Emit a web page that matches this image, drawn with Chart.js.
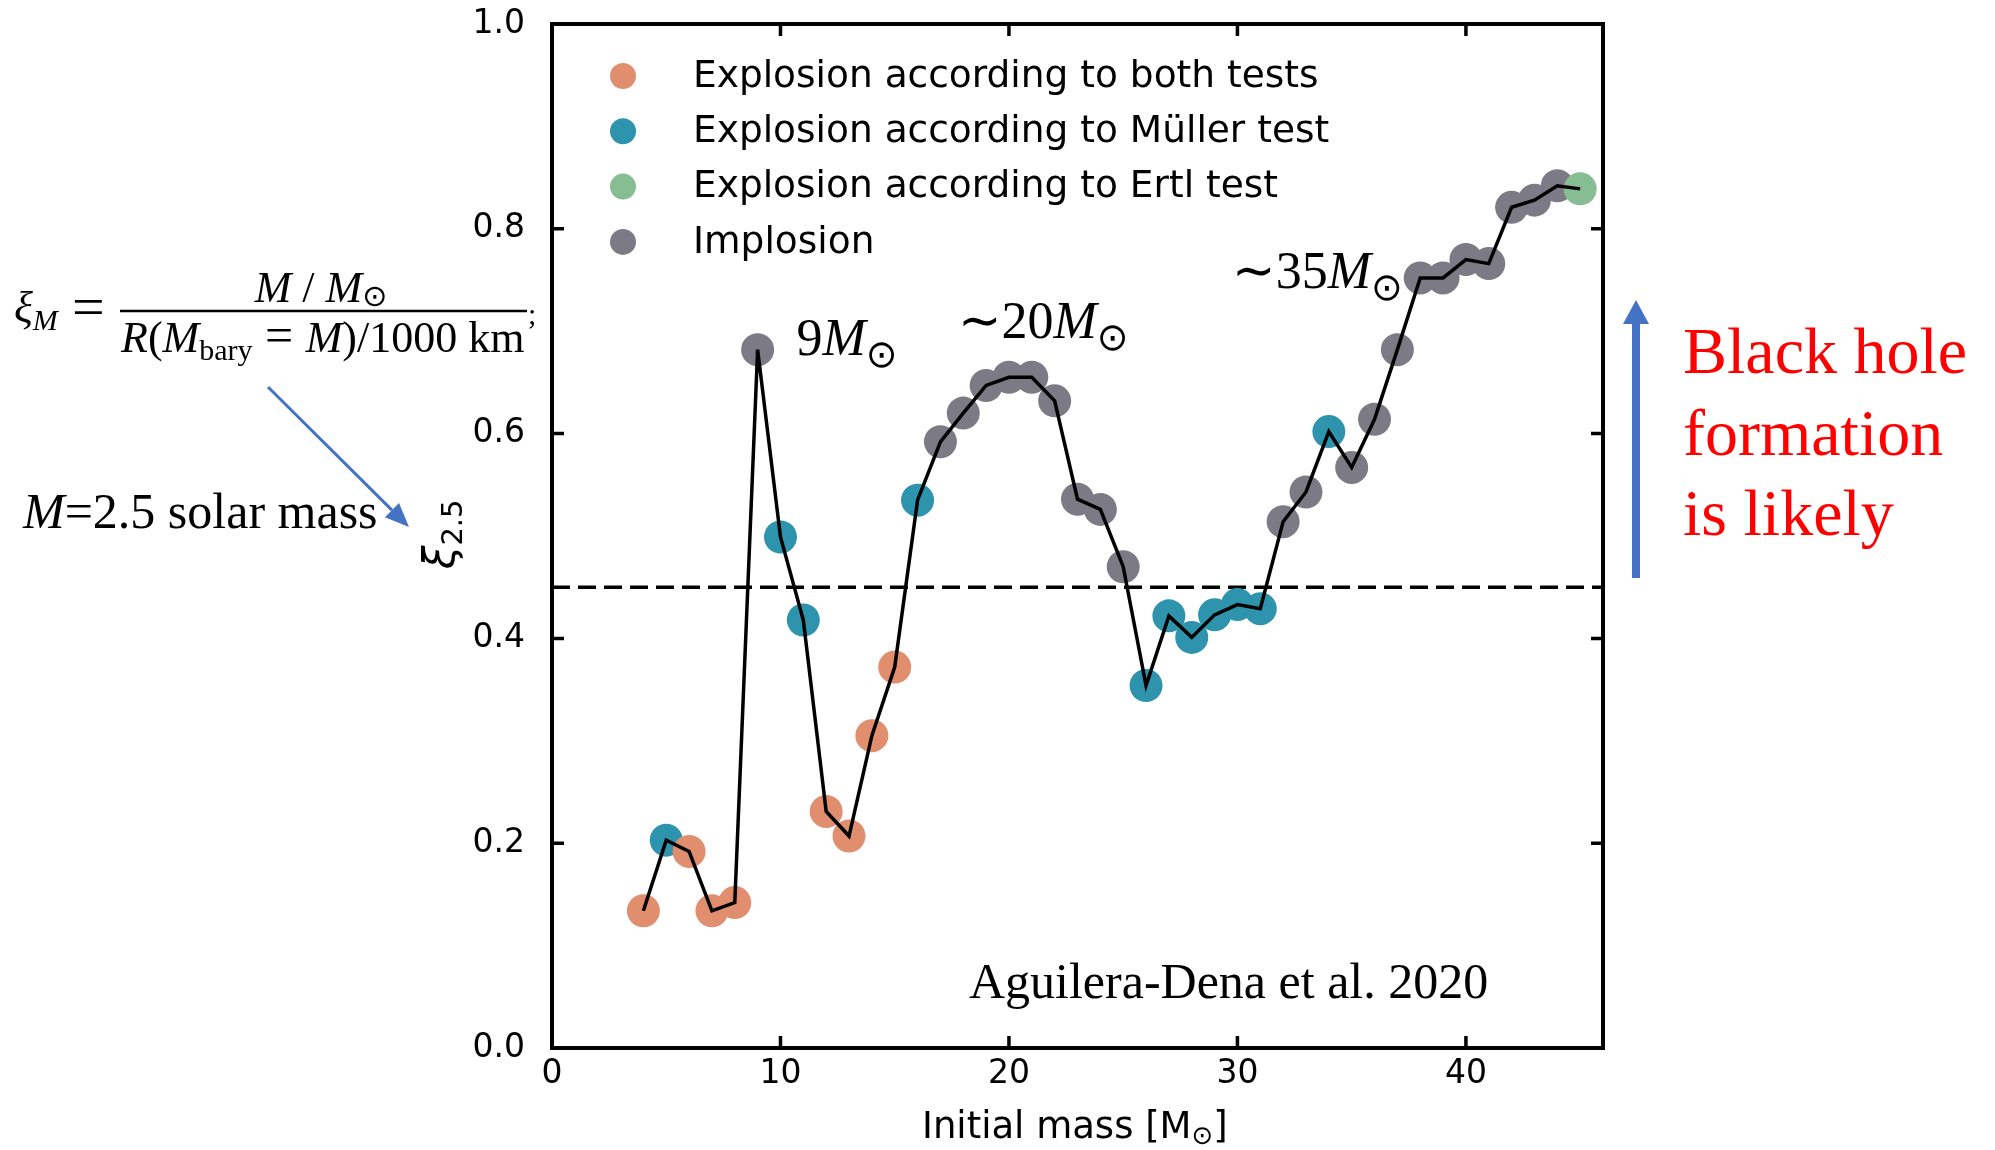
<!DOCTYPE html>
<html>
<head>
<meta charset="utf-8">
<script src="https://cdn.jsdelivr.net/npm/chart.js@4.4.1/dist/chart.umd.min.js"></script>
<style>
  html, body { margin: 0; padding: 0; background: #fff; }
  canvas { display: block; }
</style>
</head>
<body>
<canvas id="xiChart" width="1995" height="1150"></canvas>
<script>
// initial masses [Msun] and compactness xi_2.5
const masses = [4, 5, 6, 7, 8, 9, 10, 11, 12, 13, 14, 15, 16, 17, 18, 19, 20, 21, 22, 23, 24,
                25, 26, 27, 28, 29, 30, 31, 32, 33, 34, 35, 36, 37, 38, 39, 40, 41, 42, 43, 44, 45];
const xiValues = [0.134, 0.203, 0.192, 0.134, 0.142, 0.682, 0.499, 0.418, 0.231, 0.207, 0.305,
                  0.372, 0.535, 0.592, 0.620, 0.647, 0.655, 0.655, 0.632, 0.536, 0.526, 0.470,
                  0.354, 0.422, 0.401, 0.423, 0.433, 0.429, 0.514, 0.543, 0.602, 0.567, 0.614,
                  0.682, 0.752, 0.752, 0.770, 0.766, 0.821, 0.828, 0.842, 0.839];
const outcome = ['both', 'muller', 'both', 'both', 'both', 'imp', 'muller', 'muller', 'both', 'both',
                 'both', 'both', 'muller', 'imp', 'imp', 'imp', 'imp', 'imp', 'imp', 'imp', 'imp',
                 'imp', 'muller', 'muller', 'muller', 'muller', 'muller', 'muller', 'imp', 'imp',
                 'muller', 'imp', 'imp', 'imp', 'imp', 'imp', 'imp', 'imp', 'imp', 'imp', 'imp', 'ertl'];

const outcomeKeys = ['both', 'muller', 'ertl', 'imp'];
const outcomeLabels = ['Explosion according to both tests', 'Explosion according to Müller test',
                       'Explosion according to Ertl test', 'Implosion'];
const outcomeColors = ['#E08E6D', '#2E93AD', '#86BD92', '#7C7B85'];

const threshold = 0.45;
const xRange = [0, 46];
const yRange = [0, 1];
const xTicks = [0, 10, 20, 30, 40];
const yTicks = [0, 0.2, 0.4, 0.6, 0.8, 1.0];

// mass labels on the curve, placed in data coordinates
const peakLabels = [
    { num: '9', x: 10.7, y: 0.677 },
    { num: '∼20', x: 17.75, y: 0.693 },
    { num: '∼35', x: 29.75, y: 0.742 }
];

const colorOf = key => outcomeColors[outcomeKeys.indexOf(key)];
const points = masses.map((m, i) => ({ x: m, y: xiValues[i] }));

const SERIF = '"Liberation Serif", "Times New Roman", serif';
const SANS = '"DejaVu Sans", sans-serif';

// draws pieces of text one after the other: [text, font, dy]
function drawRuns(ctx, x, y, runs, align) {
    let total = 0;
    runs.forEach(r => { ctx.font = r[1]; total += ctx.measureText(r[0]).width; });
    let cx = align === 'center' ? x - total / 2 : x;
    runs.forEach(r => {
        ctx.font = r[1];
        ctx.fillText(r[0], cx, y + (r[2] || 0));
        cx += ctx.measureText(r[0]).width;
    });
}

function arrow(ctx, x1, y1, x2, y2, width, headLen, headHalf, color) {
    const ang = Math.atan2(y2 - y1, x2 - x1);
    const bx = x2 - headLen * Math.cos(ang), by = y2 - headLen * Math.sin(ang);
    ctx.strokeStyle = color;
    ctx.fillStyle = color;
    ctx.lineWidth = width;
    ctx.lineCap = 'butt';
    ctx.beginPath();
    ctx.moveTo(x1, y1);
    ctx.lineTo(bx, by);
    ctx.stroke();
    ctx.beginPath();
    ctx.moveTo(x2, y2);
    ctx.lineTo(bx + headHalf * Math.sin(ang), by - headHalf * Math.cos(ang));
    ctx.lineTo(bx - headHalf * Math.sin(ang), by + headHalf * Math.cos(ang));
    ctx.closePath();
    ctx.fill();
}

const decorations = {
    id: 'decorations',
    afterDraw(chart) {
        const ctx = chart.ctx;
        const a = chart.chartArea;
        const xs = chart.scales.x, ys = chart.scales.y;
        ctx.save();

        // frame and inward ticks
        ctx.strokeStyle = '#000';
        ctx.lineWidth = 4;
        ctx.strokeRect(a.left, a.top, a.right - a.left, a.bottom - a.top);
        ctx.lineWidth = 3.5;
        ctx.beginPath();
        xTicks.forEach(v => {
            const px = xs.getPixelForValue(v);
            ctx.moveTo(px, a.bottom); ctx.lineTo(px, a.bottom - 12);
            ctx.moveTo(px, a.top); ctx.lineTo(px, a.top + 12);
        });
        yTicks.forEach(v => {
            const py = ys.getPixelForValue(v);
            ctx.moveTo(a.left, py); ctx.lineTo(a.left + 12, py);
            ctx.moveTo(a.right, py); ctx.lineTo(a.right - 12, py);
        });
        ctx.stroke();

        // legend
        ctx.textBaseline = 'middle';
        ctx.textAlign = 'left';
        outcomeKeys.forEach((k, i) => {
            const cy = 76 + i * 55.3;
            ctx.fillStyle = outcomeColors[i];
            ctx.beginPath();
            ctx.arc(623, cy, 13, 0, Math.PI * 2);
            ctx.fill();
            ctx.fillStyle = '#000';
            ctx.font = '37.5px ' + SANS;
            ctx.fillText(outcomeLabels[i], 693, cy + 1);
        });

        ctx.textBaseline = 'alphabetic';
        ctx.fillStyle = '#000';

        // peak labels
        peakLabels.forEach(p => {
            drawRuns(ctx, xs.getPixelForValue(p.x), ys.getPixelForValue(p.y), [
                [p.num, '52px ' + SERIF],
                ['M', 'italic 52px ' + SERIF],
                ['⊙', '38px ' + SANS, 12]
            ]);
        });

        // reference
        ctx.font = '50px ' + SERIF;
        ctx.fillText('Aguilera-Dena et al. 2020', xs.getPixelForValue(18.25), ys.getPixelForValue(0.049));

        // axis titles
        drawRuns(ctx, 922, 1138, [
            ['Initial mass [M', '37px ' + SANS],
            ['⊙', '26px ' + SANS, 6],
            [']', '37px ' + SANS]
        ]);
        ctx.save();
        ctx.translate(454, 569);
        ctx.rotate(-Math.PI / 2);
        drawRuns(ctx, 0, 0, [
            ['ξ', 'italic 42px ' + SANS],
            ['2.5', '29px ' + SANS, 8]
        ]);
        ctx.restore();

        // definition of compactness on the left
        drawRuns(ctx, 14, 322, [['ξ', 'italic 44px ' + SERIF], ['M', 'italic 30px ' + SERIF, 8]]);
        ctx.font = '58px ' + SERIF;
        ctx.fillText('=', 72, 326);
        ctx.lineWidth = 2.5;
        ctx.beginPath();
        ctx.moveTo(120, 311);
        ctx.lineTo(527, 311);
        ctx.stroke();
        drawRuns(ctx, 321, 302, [
            ['M', 'italic 44px ' + SERIF],
            [' / ', '44px ' + SERIF],
            ['M', 'italic 44px ' + SERIF],
            ['⊙', '30px ' + SANS, 4]
        ], 'center');
        drawRuns(ctx, 121, 352, [
            ['R', 'italic 44px ' + SERIF],
            ['(', '44px ' + SERIF],
            ['M', 'italic 44px ' + SERIF],
            ['bary', '30px ' + SERIF, 8],
            [' = ', '50px ' + SERIF],
            ['M', 'italic 44px ' + SERIF],
            [')/1000 km', '44px ' + SERIF]
        ]);
        ctx.font = '30px ' + SERIF;
        ctx.fillText(';', 528, 324);

        drawRuns(ctx, 23, 528, [
            ['M', 'italic 50px ' + SERIF],
            ['=2.5 solar mass', '50px ' + SERIF]
        ]);
        arrow(ctx, 268, 387, 409, 527, 3, 24, 10, '#4472C4');

        // black hole side note
        arrow(ctx, 1636, 578, 1636, 300, 8, 24, 13, '#4472C4');
        ctx.fillStyle = '#FF0000';
        ctx.font = '66px ' + SERIF;
        ctx.fillText('Black hole', 1683, 373);
        ctx.fillText('formation', 1683, 455);
        ctx.fillText('is likely', 1683, 535);

        ctx.restore();
    }
};

new Chart(document.getElementById('xiChart'), {
    type: 'scatter',
    data: {
        datasets: [
            {
                label: 'threshold',
                data: [{ x: xRange[0], y: threshold }, { x: xRange[1], y: threshold }],
                showLine: true,
                borderColor: '#000',
                borderWidth: 3.5,
                borderDash: [18, 8],
                pointRadius: 0,
                order: 2
            },
            {
                label: 'xi',
                data: points,
                pointRadius: 16.5,
                pointBackgroundColor: outcome.map(colorOf),
                pointBorderWidth: 0,
                borderWidth: 0,
                order: 1
            },
            {
                label: 'track',
                data: points,
                showLine: true,
                borderColor: '#000',
                borderWidth: 3.5,
                tension: 0,
                pointRadius: 0,
                order: 0
            }
        ]
    },
    options: {
        responsive: false,
        animation: false,
        events: [],
        layout: { padding: { top: 24, right: 392, left: 0, bottom: 0 } },
        plugins: { legend: { display: false }, tooltip: { enabled: false } },
        scales: {
            x: {
                type: 'linear',
                min: xRange[0],
                max: xRange[1],
                grid: { display: false },
                border: { display: false },
                afterBuildTicks: s => { s.ticks = xTicks.map(v => ({ value: v })); },
                afterFit: s => { s.height = 102; s.paddingLeft = 0; s.paddingRight = 0; },
                ticks: {
                    color: '#000',
                    font: { family: 'DejaVu Sans', size: 33 },
                    padding: -1,
                    maxRotation: 0,
                    callback: v => String(v)
                }
            },
            y: {
                type: 'linear',
                min: yRange[0],
                max: yRange[1],
                grid: { display: false },
                border: { display: false },
                afterBuildTicks: s => { s.ticks = yTicks.map(v => ({ value: v })); },
                afterFit: s => { s.width = 552; s.paddingTop = 0; s.paddingBottom = 0; },
                ticks: {
                    color: '#000',
                    font: { family: 'DejaVu Sans', size: 33 },
                    padding: 19,
                    callback: v => v.toFixed(1)
                }
            }
        }
    },
    plugins: [decorations]
});
</script>
</body>
</html>
